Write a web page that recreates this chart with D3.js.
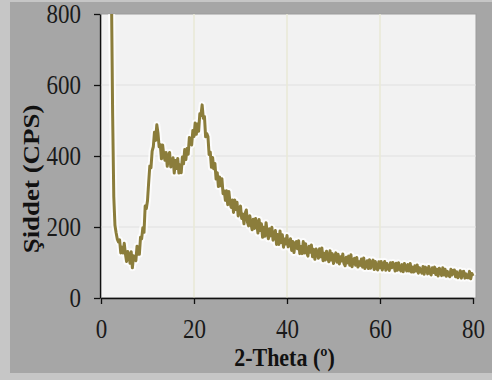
<!DOCTYPE html>
<html>
<head>
<meta charset="utf-8">
<script src="https://cdn.jsdelivr.net/npm/d3@7"></script>
<style>
  body { margin: 0; background: #c6c6c6; }
  svg { display: block; }
</style>
</head>
<body>
<svg id="chart" width="492" height="380"></svg>
<script>
// scan settings (2-theta in degrees)
const startAngle = 2;
const stepAngle = 0.25;

// intensity (CPS), four readings per degree from 2 to 80
const intensity = [
  1400, 860, 520, 285,
  205, 184, 166, 158,
  164, 127, 143, 127,
  154, 124, 103, 131,
  122, 98, 130, 85,
  119, 114, 105, 146,
  123, 123, 171, 167,
  198, 185, 259, 252,
  274, 325, 372, 367,
  414, 426, 467, 444,
  488, 465, 426, 432,
  392, 431, 403, 388,
  410, 371, 397, 410,
  369, 375, 395, 352,
  387, 365, 393, 352,
  375, 353, 397, 378,
  418, 390, 421, 405,
  452, 439, 431, 472,
  455, 493, 461, 490,
  470, 519, 514, 544,
  506, 511, 454, 463,
  455, 404, 411, 368,
  396, 364, 379, 335,
  353, 314, 341, 316,
  336, 294, 302, 275,
  302, 263, 300, 267,
  255, 276, 241, 276,
  249, 270, 231, 250,
  259, 224, 236, 209,
  239, 248, 213, 203,
  232, 210, 192, 222,
  196, 224, 209, 183,
  221, 190, 209, 171,
  199, 174, 212, 184,
  167, 195, 175, 199,
  163, 179, 190, 151,
  179, 151, 189, 156,
  178, 143, 166, 152,
  176, 144, 151, 167,
  134, 159, 128, 154,
  159, 139, 161, 125,
  145, 125, 159, 127,
  153, 127, 118, 146,
  129, 149, 116, 137,
  109, 138, 128, 112,
  139, 116, 141, 105,
  126, 107, 132, 115,
  102, 133, 107, 125,
  97, 117, 127, 101,
  123, 96, 116, 104,
  124, 97, 91, 115,
  99, 118, 92, 122,
  88, 107, 112, 92,
  114, 87, 102, 92,
  110, 87, 113, 83,
  92, 105, 83, 108,
  84, 100, 107, 80,
  103, 84, 79, 102,
  85, 103, 79, 94,
  103, 78, 97, 84,
  78, 99, 85, 100,
  94, 76, 98, 78,
  99, 82, 76, 94,
  74, 97, 88, 76,
  94, 76, 97, 73,
  87, 73, 91, 76,
  93, 70, 85, 77,
  70, 89, 67, 87,
  83, 68, 89, 70,
  65, 85, 72, 87,
  66, 81, 62, 84,
  76, 63, 85, 65,
  81, 61, 75, 65,
  60, 81, 65, 78,
  79, 60, 74, 57,
  63, 77, 56, 74,
  75, 56, 68, 57,
  57, 75, 54, 69,
  62
];

const xTicks = [0, 20, 40, 60, 80];
const yTicks = [0, 200, 400, 600, 800];
const xTitle = '2-Theta (º)';
const yTitle = 'Şiddet (CPS)';

const svg = d3.select('#chart');
const font = 'Liberation Serif, Times New Roman, serif';
const stretch = 1.17; // the original text is a bit taller than wide

const plot = { left: 101, top: 14, right: 476, bottom: 298 };

// outer frame
svg.append('rect').attr('width', 492).attr('height', 380).attr('fill', '#c6c6c6');
svg.append('rect').attr('x', 10).attr('y', 2).attr('width', 482).attr('height', 371).attr('fill', '#a6a6a6');

const x = d3.scaleLinear().domain([0, 80]).range([plot.left, plot.right - 3]);
const y = d3.scaleLinear().domain([0, 800]).range([plot.bottom, plot.top]);

// plot area
svg.append('rect')
  .attr('x', plot.left).attr('y', plot.top)
  .attr('width', plot.right - plot.left).attr('height', plot.bottom - plot.top)
  .attr('fill', '#f2f2f2')
  .attr('stroke', '#9c9c9c').attr('stroke-width', 1);

svg.append('g').selectAll('line')
  .data(yTicks.filter(d => d > 0 && d < 800))
  .enter().append('line')
  .attr('x1', plot.left).attr('x2', plot.right)
  .attr('y1', d => y(d)).attr('y2', d => y(d))
  .attr('stroke', '#e0e0e0');

svg.append('g').selectAll('line')
  .data(xTicks.filter(d => d > 0 && d < 80))
  .enter().append('line')
  .attr('x1', d => x(d)).attr('x2', d => x(d))
  .attr('y1', plot.top).attr('y2', plot.bottom)
  .attr('stroke', '#e9e8d6').attr('stroke-width', 1.5);

// pattern
svg.append('clipPath').attr('id', 'clip')
  .append('rect')
  .attr('x', plot.left).attr('y', plot.top)
  .attr('width', plot.right - plot.left).attr('height', plot.bottom - plot.top);

const points = intensity.map((v, i) => [startAngle + i * stepAngle, v]);
const line = d3.line().x(d => x(d[0])).y(d => y(d[1]));

const lines = svg.append('g').attr('clip-path', 'url(#clip)');
lines.append('path')
  .datum(points)
  .attr('d', line)
  .attr('fill', 'none')
  .attr('stroke', '#ffffff')
  .attr('stroke-width', 7)
  .attr('stroke-opacity', 0.75)
  .attr('stroke-linejoin', 'round');
lines.append('path')
  .datum(points)
  .attr('d', line)
  .attr('fill', 'none')
  .attr('stroke', '#8b7d3b')
  .attr('stroke-width', 3)
  .attr('stroke-linejoin', 'round');

// axes
const yAxis = svg.append('g')
  .attr('transform', `translate(${plot.left - 1},0)`)
  .call(d3.axisLeft(y).tickValues(yTicks).tickSize(6).tickPadding(13).tickSizeOuter(0));
const xAxis = svg.append('g')
  .attr('transform', `translate(0,${plot.bottom})`)
  .call(d3.axisBottom(x).tickValues(xTicks).tickSize(6).tickPadding(19).tickSizeOuter(0));

[xAxis, yAxis].forEach(ax => {
  ax.select('.domain').attr('stroke', '#111').attr('stroke-width', 1.3);
  ax.selectAll('.tick line').attr('stroke', '#111').attr('stroke-width', 1.3);
  ax.attr('font-family', font).attr('font-size', 23);
  ax.selectAll('.tick text').attr('fill', '#1a1a1a');
});

// stretch tick labels vertically, keeping their centres
yAxis.selectAll('.tick text')
  .attr('x', null).attr('dy', null)
  .attr('transform', `translate(-19,8) scale(1,${stretch})`);
xAxis.selectAll('.tick text')
  .attr('y', null).attr('dy', null)
  .attr('transform', `translate(0,40) scale(1,${stretch})`);

// titles
svg.append('text')
  .text(xTitle)
  .attr('transform', `translate(${(plot.left + plot.right) / 2 - 4},366) scale(1,${stretch})`)
  .attr('text-anchor', 'middle')
  .attr('font-family', font).attr('font-size', 22).attr('font-weight', 'bold')
  .attr('fill', '#111');

svg.append('text')
  .text(yTitle)
  .attr('transform', `translate(39,179) rotate(-90) scale(${stretch},1)`)
  .attr('text-anchor', 'middle')
  .attr('font-family', font).attr('font-size', 23).attr('font-weight', 'bold')
  .attr('fill', '#111');
</script>
</body>
</html>
